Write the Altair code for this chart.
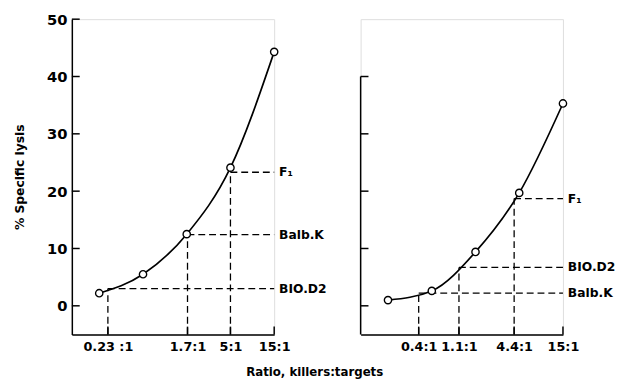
import altair as alt
import pandas as pd

# ---- data ----
ratios = [0.185, 0.556, 1.667, 5.0, 15.0]
lysis_left = [2.2, 5.5, 12.5, 24.1, 44.3]
lysis_right = [1.0, 2.6, 9.4, 19.7, 35.3]

left_strains = ["F₁", "Balb.K", "BIO.D2"]
left_ref_ratio = [5.0, 1.7, 0.23]
left_ref_lysis = [23.3, 12.4, 3.0]

right_strains = ["F₁", "BIO.D2", "Balb.K"]
right_ref_ratio = [4.4, 1.1, 0.4]
right_ref_lysis = [18.7, 6.7, 2.2]

left_tick_values = [0.23, 1.7, 5, 15]
left_tick_labels = ["0.23 :1", "1.7:1", "5:1", "15:1"]
right_tick_values = [0.4, 1.1, 4.4, 15]
right_tick_labels = ["0.4:1", "1.1:1", "4.4:1", "15:1"]

y_ticks_left = [0, 10, 20, 30, 40, 50]
y_ticks_right = [0, 10, 20, 30, 40]

X_DOMAIN = [0.093, 15]
Y_DOMAIN = [-5, 50]
W, H = 206, 321
FONT = "DejaVu Sans"


def label_expr(vals, labels):
    expr = "''"
    for v, l in reversed(list(zip(vals, labels))):
        expr = f"abs(datum.value - {v}) < 1e-6 ? '{l}' : ({expr})"
    return expr


def panel(lysis, strains, ref_ratio, ref_lysis, tick_vals, tick_labels, yticks, left):
    xs = alt.Scale(type="log", domain=X_DOMAIN, nice=False)
    ys = alt.Scale(domain=Y_DOMAIN, nice=False, zero=False)
    xaxis = alt.Axis(values=tick_vals, labelExpr=label_expr(tick_vals, tick_labels),
                     ticks=False, grid=False, domainColor="black", domainWidth=1.5,
                     labelPadding=6, title=None, labelFlush=False, labelOverlap=False,
                     labelFont=FONT, labelFontWeight="bold", labelColor="black",
                     labelFontSize=13)
    if left:
        yaxis = alt.Axis(values=yticks, ticks=False, grid=False, domainColor="black",
                         domainWidth=1.5, labelPadding=5, labelFlush=False,
                         labelFont=FONT, labelFontWeight="bold", labelColor="black",
                         labelFontSize=15, title="% Specific lysis", titlePadding=20,
                         titleFont=FONT, titleFontWeight="bold", titleFontSize=12.5,
                         titleColor="black")
    else:
        yaxis = None

    df = pd.DataFrame({"ratio": ratios, "lysis": lysis})
    ref = pd.DataFrame({"ratio": ref_ratio, "lysis": ref_lysis, "strain": strains,
                        "x_end": 15.0, "y_start": -5.0})

    dash = dict(strokeDash=[7, 4], color="black", strokeWidth=1.3)
    hr = alt.Chart(ref).mark_rule(**dash).encode(
        x=alt.X("ratio:Q", scale=xs, axis=xaxis), x2="x_end", y=alt.Y("lysis:Q", scale=ys, axis=yaxis))
    vr = alt.Chart(ref).mark_rule(**dash).encode(
        x=alt.X("ratio:Q"), y=alt.Y("y_start:Q"), y2="lysis")
    line = alt.Chart(df).mark_line(interpolate="monotone", color="black", strokeWidth=1.7).encode(
        x="ratio:Q", y="lysis:Q")
    pts = alt.Chart(df).mark_point(shape="circle", filled=True, fill="white", stroke="black",
                                   strokeWidth=1.4, size=55, opacity=1).encode(
        x="ratio:Q", y="lysis:Q")
    txt = alt.Chart(ref).mark_text(align="left", baseline="middle", dx=5, font=FONT,
                                   fontSize=12.5, fontWeight="bold", color="black").encode(
        x="x_end:Q", y="lysis:Q", text="strain:N")
    yt = alt.Chart(pd.DataFrame({"lysis": yticks})).mark_rule(color="black", strokeWidth=1.5).encode(
        y="lysis:Q", x=alt.value(0), x2=alt.value(8))
    xt = alt.Chart(pd.DataFrame({"ratio": tick_vals})).mark_rule(color="black", strokeWidth=1.5).encode(
        x="ratio:Q", y=alt.value(H - 8), y2=alt.value(H))
    layers = [hr, vr, line, pts, txt, yt, xt]
    if not left:
        ax = alt.Chart(pd.DataFrame({"lysis": [-5.0], "y_top": [40.0]})).mark_rule(
            color="black", strokeWidth=1.5).encode(y="lysis:Q", y2="y_top", x=alt.value(0))
        layers.append(ax)
    return alt.layer(*layers).properties(width=W, height=H)


left_panel = panel(lysis_left, left_strains, left_ref_ratio, left_ref_lysis,
                   left_tick_values, left_tick_labels, y_ticks_left, True)
right_panel = panel(lysis_right, right_strains, right_ref_ratio, right_ref_lysis,
                    right_tick_values, right_tick_labels, y_ticks_right, False)

chart = alt.hconcat(left_panel, right_panel, spacing=88, bounds="flush").properties(
    title=alt.TitleParams("Ratio, killers:targets", orient="bottom", anchor="middle",
                          font=FONT, fontSize=12, fontWeight="bold", color="black", offset=14),
    padding={"left": 5, "top": 0, "right": 0, "bottom": 0},
).configure_view(stroke=None).configure(background="white")

chart.save("out.html", embed_options={"renderer": "svg", "actions": False})
